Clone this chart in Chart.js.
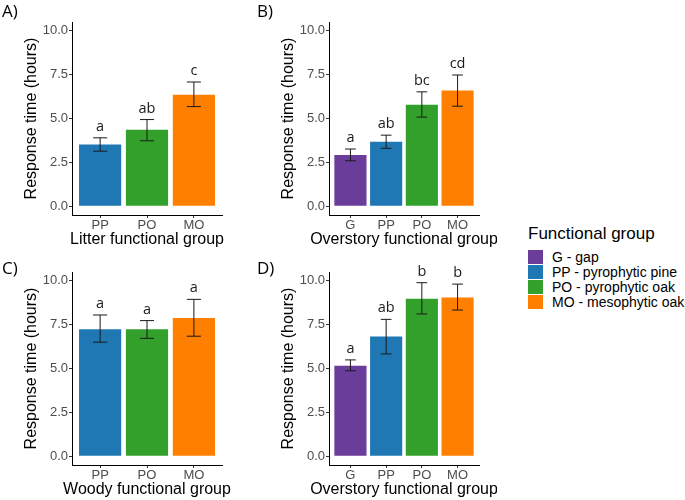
<!DOCTYPE html>
<html>
<head>
<meta charset="utf-8">
<script src="https://cdn.jsdelivr.net/npm/chart.js@4.4.0/dist/chart.umd.min.js"></script>
<style>
  body { margin: 0; background: #fff; }
  #wrap { position: relative; width: 685px; height: 500px; }
  canvas { position: absolute; }
  #legend { position: absolute; left: 528px; top: 224px; font-family: "Liberation Sans", Arial, sans-serif; color: #000; }
  #legend .ttl { font-size: 17px; line-height: 20px; margin-bottom: 6px; }
  #legend .row { height: 15px; line-height: 15px; font-size: 14px; white-space: nowrap; }
  #legend .key { display: inline-block; width: 15px; height: 14px; vertical-align: top; margin-right: 9px; }
</style>
</head>
<body>
<div id="wrap">
  <canvas id="panelA" width="240" height="250" style="left:0px;top:0px"></canvas>
  <canvas id="panelB" width="240" height="250" style="left:257px;top:0px"></canvas>
  <canvas id="panelC" width="240" height="250" style="left:0px;top:250px"></canvas>
  <canvas id="panelD" width="240" height="250" style="left:257px;top:250px"></canvas>
  <div id="legend"></div>
</div>
<script>
// groups
var threeGroups = ['PP', 'PO', 'MO'];
var fourGroups = ['G', 'PP', 'PO', 'MO'];
var yTicks = [0, 2.5, 5, 7.5, 10];

// A) litter
var litterMean = [3.52, 4.36, 6.36];
var litterLow = [3.14, 3.73, 5.68];
var litterHigh = [3.90, 4.94, 7.08];
var litterLetters = ['a', 'ab', 'c'];

// B) overstory (top)
var overMeanB = [2.92, 3.67, 5.78, 6.59];
var overLowB = [2.59, 3.30, 5.08, 5.70];
var overHighB = [3.26, 4.05, 6.52, 7.48];
var overLettersB = ['a', 'ab', 'bc', 'cd'];

// C) woody
var woodyMean = [7.23, 7.23, 7.88];
var woodyLow = [6.50, 6.72, 6.84];
var woodyHigh = [8.05, 7.73, 8.94];
var woodyLetters = ['a', 'a', 'a'];

// D) overstory (bottom)
var overMeanD = [5.15, 6.82, 8.98, 9.05];
var overLowD = [4.87, 5.83, 8.11, 8.33];
var overHighD = [5.49, 7.80, 9.89, 9.81];
var overLettersD = ['a', 'ab', 'b', 'b'];

var groupColors = { G: '#6A3D9A', PP: '#1F78B4', PO: '#33A02C', MO: '#FF7F00' };
var legendNames = { G: 'G - gap', PP: 'PP - pyrophytic pine', PO: 'PO - pyrophytic oak', MO: 'MO - mesophytic oak' };

Chart.defaults.font.family = '"Liberation Sans", Arial, sans-serif';

// error bars, letters, x title and panel tag
var extras = {
  id: 'extras',
  afterDatasetsDraw: function (chart, args, o) {
    var ctx = chart.ctx, x = chart.scales.x, y = chart.scales.y;
    ctx.save();
    ctx.strokeStyle = '#1a1a1a';
    ctx.lineWidth = 1;
    ctx.fillStyle = '#1a1a1a';
    ctx.font = '14.5px "Open Sans"';
    ctx.textAlign = 'center';
    ctx.textBaseline = 'alphabetic';
    o.low.forEach(function (lo, i) {
      var cx = x.getPixelForValue(i + 1);
      var hw = x.getPixelForValue(i + 1.15) - cx;
      var top = y.getPixelForValue(o.high[i]);
      var bot = y.getPixelForValue(lo);
      ctx.beginPath();
      ctx.moveTo(cx, top); ctx.lineTo(cx, bot);
      ctx.moveTo(cx - hw, top); ctx.lineTo(cx + hw, top);
      ctx.moveTo(cx - hw, bot); ctx.lineTo(cx + hw, bot);
      ctx.stroke();
      ctx.fillText(o.letters[i], cx, top - 7);
    });
    // x axis title, not squeezed to the axis width
    ctx.fillStyle = '#000';
    ctx.font = '16px "Liberation Sans"';
    ctx.textBaseline = 'middle';
    ctx.fillText(o.xTitle, (chart.chartArea.left + chart.chartArea.right) / 2, 240);
    // panel tag
    ctx.font = '17px "Open Sans"';
    ctx.textAlign = 'left';
    ctx.textBaseline = 'alphabetic';
    ctx.fillText(o.tag, o.tagX, o.tagY);
    ctx.restore();
  }
};

function makePanel(id, tag, tagX, tagY, groups, mean, low, high, letters, xTitle) {
  new Chart(document.getElementById(id), {
    type: 'bar',
    data: {
      datasets: [{
        data: groups.map(function (g, i) { return { x: i + 1, y: mean[i] }; }),
        backgroundColor: groups.map(function (g) { return groupColors[g]; }),
        borderWidth: 0,
        barPercentage: 0.9,
        categoryPercentage: 1
      }]
    },
    options: {
      responsive: false,
      animation: false,
      layout: { padding: { top: 22, right: 18, bottom: 0, left: 0 } },
      plugins: {
        legend: { display: false },
        tooltip: { enabled: false },
        extras: { low: low, high: high, letters: letters, tag: tag, tagX: tagX, tagY: tagY, xTitle: xTitle }
      },
      scales: {
        x: {
          type: 'linear',
          offset: false,
          min: 0.4,
          max: groups.length + 0.6,
          afterBuildTicks: function (s) { s.ticks = groups.map(function (g, i) { return { value: i + 1 }; }); },
          afterFit: function (s) { s.height = 35; s.paddingLeft = 0; s.paddingRight = 0; },
          ticks: {
            autoSkip: false, maxRotation: 0, padding: 0,
            color: '#4d4d4d', font: { size: 13 },
            callback: function (v) { return groups[v - 1]; }
          },
          grid: { offset: false, drawOnChartArea: false, drawTicks: true, tickLength: 3, color: '#333' },
          border: { display: true, color: '#000', width: 1 }
        },
        y: {
          min: -0.5,
          max: 10.5,
          afterBuildTicks: function (s) { s.ticks = yTicks.map(function (v) { return { value: v }; }); },
          afterFit: function (s) { s.width = 72; s.paddingTop = 0; s.paddingBottom = 0; s.paddingLeft = 0; s.paddingRight = 0; },
          ticks: {
            padding: 1, color: '#4d4d4d', font: { size: 13 },
            callback: function (v) { return v.toFixed(1); }
          },
          grid: { drawOnChartArea: false, drawTicks: true, tickLength: 3, color: '#333' },
          border: { display: true, color: '#000', width: 1 },
          title: { display: true, text: 'Response time (hours)', color: '#000', font: { size: 16 }, padding: { top: 22.4, bottom: 0 } }
        }
      }
    },
    plugins: [extras]
  });
}

makePanel('panelA', 'A)', 2, 17, threeGroups, litterMean, litterLow, litterHigh, litterLetters, 'Litter functional group');
makePanel('panelB', 'B)', 0, 17, fourGroups, overMeanB, overLowB, overHighB, overLettersB, 'Overstory functional group');
makePanel('panelC', 'C)', 2, 24, threeGroups, woodyMean, woodyLow, woodyHigh, woodyLetters, 'Woody functional group');
makePanel('panelD', 'D)', 0, 24, fourGroups, overMeanD, overLowD, overHighD, overLettersD, 'Overstory functional group');

// legend
var legend = document.getElementById('legend');
var html = '<div class="ttl">Functional group</div>';
fourGroups.forEach(function (g) {
  html += '<div class="row"><span class="key" style="background:' + groupColors[g] + '"></span>' + legendNames[g] + '</div>';
});
legend.innerHTML = html;
</script>
</body>
</html>
